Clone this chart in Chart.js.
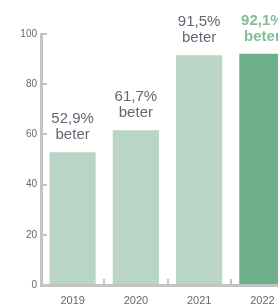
<!DOCTYPE html>
<html><head><meta charset="utf-8">
<script src="https://cdn.jsdelivr.net/npm/chart.js@4/dist/chart.umd.min.js"></script>
<style>html,body{margin:0;padding:0;overflow:hidden;background:#fff;width:278px;height:308px}#w{width:294px;height:308px;position:relative}</style>
</head><body><div id="w"><canvas id="c"></canvas></div>
<script>
const categories = ["2019", "2020", "2021", "2022"];
const values = [52.9, 61.7, 91.5, 92.1];
const valueLabels = ["52,9%", "61,7%", "91,5%", "92,1%"];
const suffix = "beter";
const yTicks = [0, 20, 40, 60, 80, 100];

const light = "#b9d5c5", dark = "#6daf89", axisCol = "#c4c4c4", textCol = "#646773", hiText = "#86bd97";

const labelPlugin = {
  id: "lbl",
  afterDatasetsDraw(chart) {
    const ctx = chart.ctx;
    const meta = chart.getDatasetMeta(0);
    meta.data.forEach((el, i) => {
      const last = i === values.length - 1;
      ctx.save();
      ctx.fillStyle = last ? hiText : textCol;
      ctx.font = (last ? "bold " : "") + "15px 'Liberation Sans', Arial, sans-serif";
      ctx.textAlign = "center";
      ctx.textBaseline = "alphabetic";
      ctx.fillText(suffix, el.x, el.y - 13);
      ctx.fillText(valueLabels[i], el.x, el.y - 29);
      ctx.restore();
    });
  }
};

new Chart(document.getElementById("c"), {
  type: "bar",
  data: {
    labels: categories,
    datasets: [{
      data: values,
      backgroundColor: values.map((v, i) => i === values.length - 1 ? dark : light),
      borderWidth: 0,
      categoryPercentage: 1,
      barPercentage: 0.73
    }]
  },
  options: {
    responsive: true,
    maintainAspectRatio: false,
    animation: false,
    layout: { padding: { top: 34, right: 0, left: 0, bottom: 0 } },
    plugins: { legend: { display: false }, tooltip: { enabled: false } },
    scales: {
      x: {
        grid: { display: true, drawOnChartArea: false, offset: true, tickLength: -6, color: axisCol, lineWidth: 2 },
        border: { display: true, color: axisCol, width: 3 },
        ticks: { color: textCol, font: { family: "'Liberation Sans', Arial, sans-serif", size: 11 }, padding: 15 },
        afterFit(s) { s.height = 23; }
      },
      y: {
        min: 0, max: 100,
        afterBuildTicks(s) { s.ticks = yTicks.map(v => ({ value: v })); },
        grid: { display: true, drawOnChartArea: false, tickLength: -6, color: axisCol, lineWidth: 2 },
        border: { display: true, color: axisCol, width: 3 },
        ticks: { color: textCol, font: { family: "'Liberation Sans', Arial, sans-serif", size: 10 }, padding: 10 },
        afterFit(s) { s.width = 41; }
      }
    }
  },
  plugins: [labelPlugin]
});
</script></body></html>
